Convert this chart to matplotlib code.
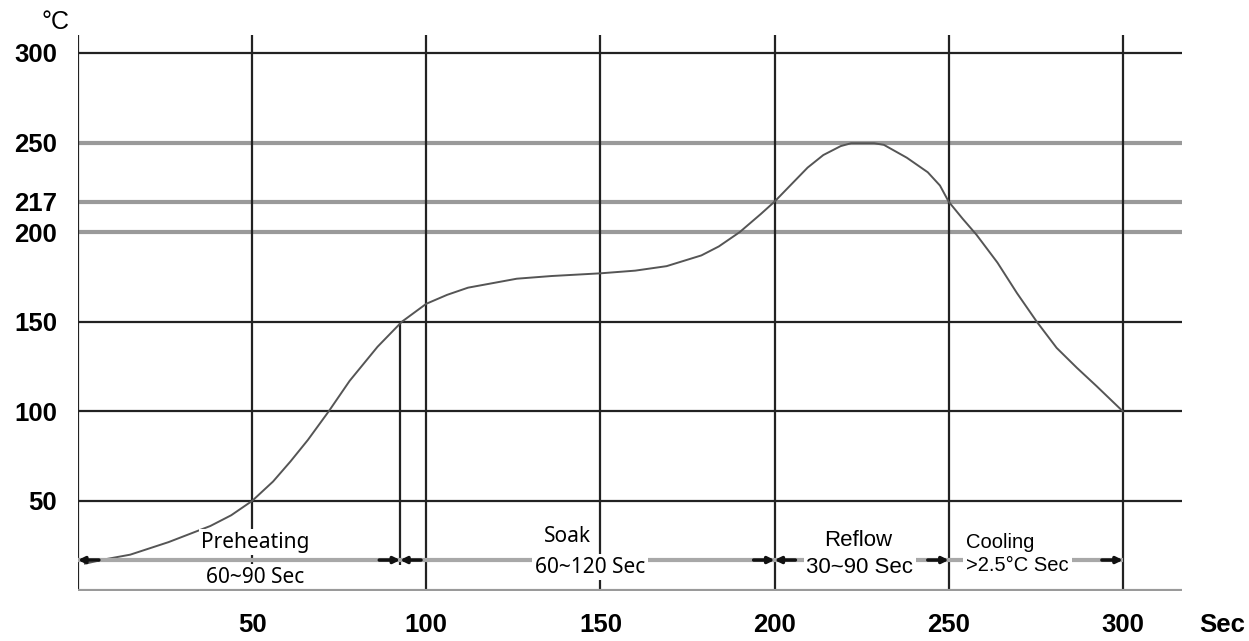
import matplotlib.pyplot as plt

# reflow profile
time_s = [2, 8, 15, 26, 38, 44, 50, 56, 61, 66, 72, 78, 86, 93, 100, 106,
          112, 126, 136, 150, 160, 169, 179, 184, 190, 196, 200, 205, 209.5,
          214, 219, 222, 228.6, 231.4, 238, 244, 247.5, 250, 254, 258, 264,
          269.6, 275.3, 281, 286.8, 292.5, 300]
temp_c = [15, 17.5, 20, 27, 36, 42, 50, 60.8, 72, 84, 100, 117, 136, 150, 160,
          165, 169, 174, 175.5, 177, 178.5, 181, 187, 192, 200, 210, 217, 227,
          236, 243, 248, 249.6, 249.6, 248.7, 241.5, 233.4, 226, 217, 207.5,
          198.5, 183, 166, 150, 135.4, 124.3, 114, 100]

x_ticks = [50, 100, 150, 200, 250, 300]
y_ticks = [50, 100, 150, 200, 217, 250, 300]
y_dark = [50, 100, 150, 300]
y_grey = [200, 217, 250]

preheat_end = 92.5
arrow_y = 17
# (tip, direction) for the little arrowheads on the stage bar
arrow_tips = [(0, -1), (preheat_end, 1), (preheat_end, -1), (200, 1),
              (200, -1), (250, 1), (300, 1)]

fig = plt.figure(figsize=(12.49, 6.41), dpi=100)
ax = fig.add_axes([78 / 1249, 50.5 / 641, 1104 / 1249, 555.5 / 641])
ax.set_xlim(0, 317)
ax.set_ylim(0, 310)
for s in ax.spines.values():
    s.set_visible(False)

ax.hlines(y_dark, 0, 317, color='#222222', lw=1.6, zorder=1)
ax.hlines(y_grey, 0, 317, color='#9a9a9a', lw=3, zorder=1)
ax.vlines([0] + x_ticks, 0, 310, color='#222222', lw=1.6, zorder=1)
ax.vlines(preheat_end, arrow_y - 3, 150, color='#222222', lw=1.6, zorder=1)
ax.hlines(0, 0, 317, color='#9a9a9a', lw=3, zorder=6)

ax.plot(time_s, temp_c, color='#555555', lw=1.4, zorder=2)

# stage bar
ax.hlines(arrow_y, 0, 300, color='#a8a8a8', lw=3, zorder=2)
for tip, d in arrow_tips:
    ax.annotate('', xy=(tip, arrow_y), xytext=(tip - d * 6, arrow_y),
                arrowprops=dict(arrowstyle='-|>', color='#111111', lw=2.5,
                                mutation_scale=9, shrinkA=0, shrinkB=0),
                zorder=4)

box = dict(facecolor='white', edgecolor='none', pad=2)
ax.text(51, 27, 'Preheating', fontsize=15, family='Noto Sans',
        ha='center', va='center', bbox=box, zorder=5)
ax.text(51, 7.5, '60~90 Sec', fontsize=15, family='Noto Sans',
        ha='center', va='center', bbox=box, zorder=5)
ax.text(140.6, 30, 'Soak', fontsize=15, family='Noto Sans',
        ha='center', va='center', bbox=box, zorder=5)
ax.text(147, 13, '60~120 Sec', fontsize=15, family='Noto Sans',
        ha='center', va='center', bbox=box, zorder=5)
ax.text(224, 28, 'Reflow', fontsize=16, family='Liberation Sans',
        ha='center', va='center', bbox=box, zorder=5)
ax.text(224.5, 13, '30~90 Sec', fontsize=16, family='Liberation Sans',
        ha='center', va='center', bbox=box, zorder=5)
ax.text(255, 27, 'Cooling', fontsize=14.5, family='Liberation Sans',
        ha='left', va='center', bbox=box, zorder=5)
ax.text(255, 14, '>2.5°C Sec', fontsize=14.5, family='Liberation Sans',
        ha='left', va='center', bbox=box, zorder=5)

ax.set_xticks(x_ticks)
ax.set_xticklabels([str(v) for v in x_ticks], fontsize=18.5,
                   fontweight='bold', family='Liberation Sans')
ax.set_yticks(y_ticks)
ax.set_yticklabels([str(v) for v in y_ticks], fontsize=18.5,
                   fontweight='bold', family='Liberation Sans')
ax.tick_params(axis='both', length=0)
ax.tick_params(axis='x', pad=16)
ax.tick_params(axis='y', pad=15)

ax.text(328.5, -0.062, 'Sec', transform=ax.get_xaxis_transform(),
        fontsize=18.5, fontweight='bold', family='Liberation Sans',
        ha='center', va='center', clip_on=False)
ax.text(-6.6, 317, '°C', fontsize=18, family='Liberation Sans',
        ha='center', va='center', clip_on=False)

fig.savefig('out.png', dpi=100)
